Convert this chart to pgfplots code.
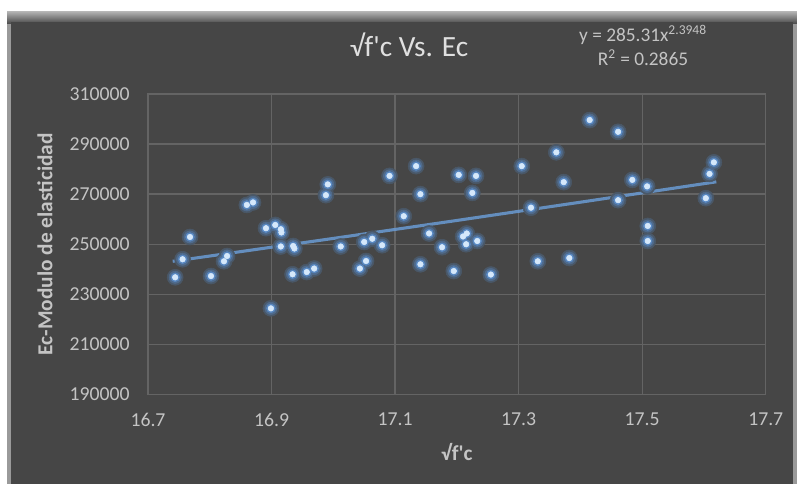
\documentclass[border=0pt]{standalone}
\usepackage{fontspec}
\setmainfont{Carlito}
\usepackage{pgfplots}
\usepackage{pgfplotstable}
\pgfplotsset{compat=1.18}
\definecolor{bg}{HTML}{464646}
\definecolor{gridcol}{HTML}{646464}
\definecolor{tickcol}{HTML}{C4C4C4}
\definecolor{titlecol}{HTML}{E0E0E0}
\definecolor{glowA}{HTML}{4A5868}
\definecolor{glowB}{HTML}{4F6B8D}
\definecolor{glowC}{HTML}{5888C2}
\definecolor{dotcol}{HTML}{D5E8FB}
\definecolor{trend}{HTML}{6A9BD4}
\definecolor{bevel}{HTML}{9A9A9A}

\pgfplotstableread{
x y
16.744 236800
16.756 244000
16.768 252900
16.802 237300
16.823 243200
16.828 245300
16.860 265700
16.870 266700
16.891 256400
16.899 224400
16.906 257700
16.915 256000
16.916 254700
16.915 249100
16.934 238000
16.935 249300
16.937 248300
16.957 238900
16.969 240300
16.988 269600
16.991 273900
17.012 249100
17.043 240300
17.050 250900
17.053 243300
17.063 252200
17.079 249600
17.091 277300
17.114 261200
17.134 281200
17.141 270000
17.141 242000
17.155 254300
17.176 248800
17.195 239300
17.203 277700
17.210 253100
17.216 254300
17.215 250000
17.233 251300
17.231 277300
17.225 270500
17.255 237900
17.305 281200
17.320 264600
17.331 243200
17.361 286700
17.373 274800
17.382 244500
17.415 299600
17.461 294900
17.461 267600
17.484 275700
17.508 273100
17.509 257300
17.509 251300
17.603 268400
17.609 278100
17.616 282700
}\datatable

\pgfplotstableread{
x y
16.74 243190
17.00 252330
17.20 259500
17.40 266790
17.62 274930
}\trendtable

\begin{document}
\begin{tikzpicture}
\begin{scope}[x=0.75pt,y=-0.75pt]
\fill[white] (0,0) rectangle (797,484);
\fill[bevel] (7,12) rectangle (797,484);
\shade[top color=bevel!80!white, bottom color=bg] (7,12) rectangle (797,24);
\fill[bg] (11,22) rectangle (793,484);
\node[font=\fontsize{22}{26}\selectfont, text=titlecol] at (409,45) {√f\textquotesingle c Vs. Ec};
\node[font=\fontsize{14.5}{17}\selectfont, text=tickcol, align=center] at (643,45)
  {y = 285.31x\textsuperscript{2.3948}\\[1pt] R\textsuperscript{2} = 0.2865};
\end{scope}
\begin{axis}[
  at={(111pt,-295.875pt)}, anchor=south west,
  scale only axis, width=463.31pt, height=225.375pt,
  xmin=16.7, xmax=17.7, ymin=190000, ymax=310000,
  xtick={16.7,16.9,17.1,17.3,17.5,17.7},
  ytick={190000,210000,230000,250000,270000,290000,310000},
  grid=major,
  major grid style={gridcol, line width=1pt},
  axis line style={gridcol, line width=1pt},
  axis background/.style={fill=bg},
  tick style={draw=none},
  scaled y ticks=false,
  ticklabel style={font=\fontsize{14.8}{17}\selectfont, text=tickcol, inner sep=0pt},
  yticklabel style={anchor=east, xshift=-13.5pt},
  yticklabel={\pgfmathprintnumber[fixed, precision=0, 1000 sep={}, assume math mode=true]{\tick}},
  xticklabel style={anchor=north, yshift=-13.5pt},
  xticklabel={\pgfmathprintnumber[fixed, precision=1, fixed zerofill, assume math mode=true]{\tick}},
  xlabel={√f\textquotesingle c},
  ylabel={Ec-Modulo de elasticidad},
  label style={font=\bfseries\fontsize{16}{19}\selectfont, text=tickcol},
  xlabel style={at={(axis description cs:0.5,-0.19)}, anchor=center},
  ylabel style={at={(axis description cs:-0.167,0.5)}, anchor=center},
]
\addplot[only marks, mark=*, mark size=6pt, draw=glowA, fill=glowA, mark options={draw=glowA, fill=glowA}] table[x=x,y=y] {\datatable};
\addplot[only marks, mark=*, mark size=4.6pt, draw=glowB, fill=glowB, mark options={draw=glowB, fill=glowB}] table[x=x,y=y] {\datatable};
\addplot[only marks, mark=*, mark size=3.3pt, draw=glowC, fill=glowC, mark options={draw=glowC, fill=glowC}] table[x=x,y=y] {\datatable};
\addplot[trend, line width=2.3pt, opacity=0.85] table[x=x,y=y] {\trendtable};
\addplot[only marks, mark=*, mark size=2.1pt, draw=dotcol, fill=dotcol, mark options={draw=dotcol, fill=dotcol}] table[x=x,y=y] {\datatable};
\end{axis}
\end{tikzpicture}
\end{document}
